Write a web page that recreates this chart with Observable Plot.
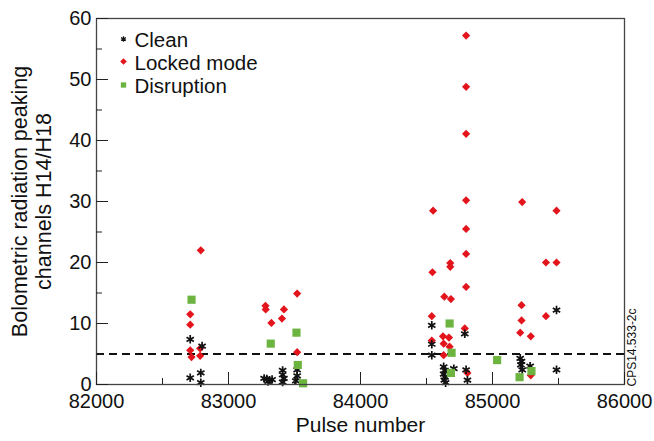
<!DOCTYPE html>
<html><head><meta charset="utf-8">
<script src="https://cdn.jsdelivr.net/npm/d3@7"></script>
<script src="https://cdn.jsdelivr.net/npm/@observablehq/plot@0.6"></script>
<style>body{margin:0;background:#fff} svg{font-family:"Liberation Sans",Arial,sans-serif}</style>
</head><body><div id="chart"></div>
<script>
// Clean discharges
const cleanX = [82710, 82800, 82710, 82790, 82790,
  83270, 83290, 83310, 83330, 83300,
  83410, 83410, 83420, 83410, 83520, 83520, 83510,
  84540, 84790, 84540, 84540, 84630, 84640, 84630, 84640, 84635, 84645, 84707, 84800, 84810,
  85210, 85220, 85215, 85225, 85285, 85485, 85485];
const cleanY = [7.4, 6.3, 1.1, 1.9, 0.3,
  1.0, 0.9, 0.7, 0.8, 0.5,
  2.3, 1.6, 1.0, 0.4, 2.4, 1.4, 0.6,
  9.7, 8.3, 6.6, 4.8, 2.9, 2.3, 1.7, 1.2, 0.7, 0.3, 2.6, 2.4, 0.7,
  4.3, 3.8, 3.2, 2.4, 3.0, 12.2, 2.4];
// Locked mode
const lockedX = [82790, 82710, 82710, 82710, 82785, 82720, 82785,
  83520, 83280, 83282, 83420, 83405, 83325, 83520,
  84800, 84800, 84800, 84800, 84550, 84800, 84800, 84545, 84680, 84680, 84800, 84635, 84685, 84540, 84790, 84540, 84625, 84670, 84630, 84675, 84630, 84810,
  85225, 85485, 85405, 85485, 85220, 85220, 85405, 85210, 85290, 85290];
const lockedY = [22.0, 11.5, 9.8, 5.6, 5.9, 4.5, 4.7,
  14.9, 12.9, 12.3, 12.3, 10.8, 10.1, 5.3,
  57.2, 48.8, 41.1, 30.2, 28.5, 25.5, 21.4, 18.4, 19.9, 19.3, 16.0, 14.4, 14.0, 11.2, 9.2, 7.2, 7.9, 7.7, 6.7, 6.2, 4.8, 1.9,
  29.9, 28.5, 20.0, 20.0, 13.0, 10.5, 11.2, 8.5, 7.9, 1.5];
// Disruption
const disrX = [82720, 83515, 83320, 83525, 83565, 84675, 84690, 84685, 85035, 85205, 85295];
const disrY = [13.9, 8.5, 6.7, 3.2, 0.2, 10.0, 5.2, 1.9, 4.0, 1.2, 2.2];

const xTicks = [82000, 83000, 84000, 85000, 86000];
const xMinor = [82500, 83500, 84500, 85500];
const yTicks = [0, 10, 20, 30, 40, 50, 60];
const yMinor = [5, 15, 25, 35, 45, 55];
const threshold = [5];
const legendItems = ["Clean", "Locked mode", "Disruption"];

const RED = "#e3141b", GREEN = "#6cb43f";
const zip = (xs, ys) => xs.map((x, i) => ({x, y: ys[i]}));
const clean = zip(cleanX, cleanY), locked = zip(lockedX, lockedY), disr = zip(disrX, disrY);

const legendMarks = [];
const legendSym = [
  {symbol: "asterisk", stroke: "#111", fill: null, r: 2.6},
  {symbol: "diamond2", fill: RED, stroke: null, r: 3},
  {symbol: "square", fill: GREEN, stroke: null, r: 3}
];
const legendDy = [20.5, 43, 66.5];
legendItems.forEach((t, i) => {
  const s = legendSym[i];
  legendMarks.push(Plot.dot([t], {frameAnchor: "top-left", dx: 27, dy: legendDy[i], symbol: s.symbol, r: s.r, fill: s.fill, stroke: s.stroke, strokeWidth: 1.2}));
  legendMarks.push(Plot.text([t], {frameAnchor: "top-left", dx: 38, dy: legendDy[i] + 1.5, text: d => d, textAnchor: "start", lineAnchor: "middle", fontSize: 20.5, fill: "#111"}));
});

const chart = Plot.plot({
  width: 654, height: 441,
  marginLeft: 96, marginRight: 30, marginTop: 18, marginBottom: 57,
  style: {fontFamily: "Liberation Sans, Arial, sans-serif", background: "white", color: "#111"},
  x: {domain: [82000, 86000]},
  y: {domain: [0, 60]},
  marks: [
    Plot.ruleY(threshold, {stroke: "#111", strokeWidth: 1.8, strokeDasharray: "8,5"}),
    Plot.dot(locked, {x: "x", y: "y", symbol: "diamond2", r: 3.7, fill: RED}),
    Plot.dot(clean, {x: "x", y: "y", symbol: "asterisk", r: 4, stroke: "#111", strokeWidth: 1.7}),
    Plot.dot(disr, {x: "x", y: "y", symbol: "square", r: 4.6, fill: GREEN}),
    Plot.frame({stroke: "#444", strokeWidth: 1.3}),
    Plot.axisX({ticks: xTicks, tickFormat: d => String(d), tickSize: -12, tickPadding: 21, fontSize: 20, label: null, stroke: "#222"}),
    Plot.axisX({ticks: xMinor, tickFormat: () => "", tickSize: -6, label: null, stroke: "#222"}),
    Plot.axisY({ticks: yTicks, tickFormat: d => String(d), tickSize: -12, tickPadding: 17, fontSize: 20, label: null, stroke: "#222"}),
    Plot.axisY({ticks: yMinor, tickFormat: () => "", tickSize: -6, label: null, stroke: "#222"}),
    Plot.text(["Pulse number"], {frameAnchor: "bottom", dy: 41, text: d => d, fontSize: 21, lineAnchor: "middle", fill: "#111"}),
    Plot.text(["Bolometric radiation peaking\nchannels H14/H18"], {frameAnchor: "left", dx: -65, text: d => d, rotate: -90, fontSize: 21.5, lineHeight: 1.08, lineAnchor: "middle", textAnchor: "middle", fill: "#111"}),
    Plot.text(["CPS14.533-2c"], {frameAnchor: "bottom-right", dx: 8, dy: 2, text: d => d, rotate: -90, fontSize: 12, textAnchor: "start", lineAnchor: "middle", fill: "#111"}),
    ...legendMarks
  ]
});
document.getElementById("chart").appendChild(chart);
</script>
</body></html>
